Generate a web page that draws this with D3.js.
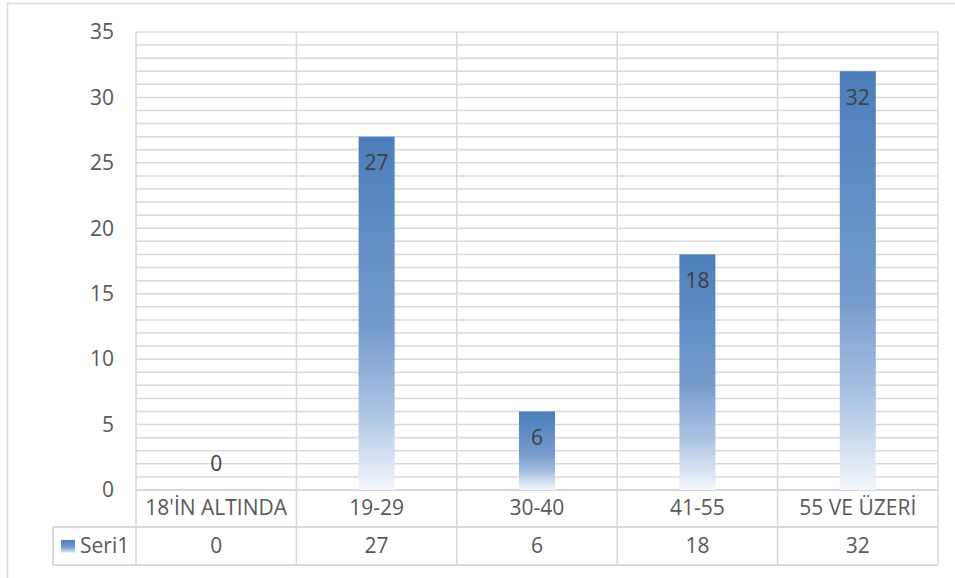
<!DOCTYPE html>
<html><head><meta charset="utf-8">
<script src="https://cdn.jsdelivr.net/npm/d3@7"></script>
<style>body{margin:0;background:#fff}text{font-family:"Open Sans","Noto Sans",sans-serif}</style>
</head><body><svg id="c" width="955" height="578"></svg>
<script>
const categories = ["18'İN ALTINDA","19-29","30-40","41-55","55 VE ÜZERİ"];
const values = [0,27,6,18,32];
const seriesName = "Seri1";
const yTicks = [0,5,10,15,20,25,30,35];

const svg = d3.select("#c");
const L=136,R=938,T=32,B=490,row1=527,row2=565,legL=53;
const grid="#d9d9d9", txt="#595959", fs="21px";

const defs=svg.append("defs");
const g=defs.append("linearGradient").attr("id","bg").attr("x1",0).attr("y1",0).attr("x2",0).attr("y2",1);
[[0,"#4a7ebb"],[0.55,"#769ccd"],[0.78,"#aac3e3"],[1,"#f4f7fc"]].forEach(s=>g.append("stop").attr("offset",s[0]).attr("stop-color",s[1]));

svg.append("rect").attr("x",7.5).attr("y",3.5).attr("width",960).attr("height",590).attr("fill","#fff").attr("stroke","#d9d9d9").attr("stroke-width",1.5);

const x=d3.scaleBand().domain(categories).range([L,R]).paddingInner(0).paddingOuter(0);
const y=d3.scaleLinear().domain([0,35]).range([B,T]);

const gl=svg.append("g");
d3.range(0,36,1).forEach(v=>gl.append("line").attr("x1",L).attr("x2",R).attr("y1",y(v)).attr("y2",y(v)).attr("stroke",grid).attr("stroke-width",1.5));
categories.forEach(c=>gl.append("line").attr("x1",x(c)).attr("x2",x(c)).attr("y1",T).attr("y2",row2).attr("stroke",grid).attr("stroke-width",1.5));
gl.append("line").attr("x1",R).attr("x2",R).attr("y1",T).attr("y2",row2).attr("stroke",grid).attr("stroke-width",1.5);
gl.append("line").attr("x1",L).attr("x2",R).attr("y1",B).attr("y2",B).attr("stroke",grid).attr("stroke-width",2);
gl.append("line").attr("x1",legL).attr("x2",R).attr("y1",row1).attr("y2",row1).attr("stroke",grid).attr("stroke-width",2);
gl.append("line").attr("x1",legL).attr("x2",R).attr("y1",row2).attr("y2",row2).attr("stroke",grid).attr("stroke-width",2);
gl.append("line").attr("x1",legL).attr("x2",legL).attr("y1",row1).attr("y2",row2).attr("stroke",grid).attr("stroke-width",2);

const ax=svg.append("g").attr("transform",`translate(${L},0)`).call(d3.axisLeft(y).tickValues(yTicks).tickSize(0).tickPadding(22));
ax.select(".domain").remove();
ax.selectAll("text").attr("fill",txt).style("font-size",fs).style("font-family",'"Open Sans","Noto Sans",sans-serif');

const bw=36;
svg.append("g").selectAll("rect").data(values).join("rect")
 .attr("x",(d,i)=>x(categories[i])+x.bandwidth()/2-bw/2).attr("width",bw)
 .attr("y",d=>y(d)).attr("height",d=>B-y(d)).attr("fill","url(#bg)");

svg.append("g").selectAll("text").data(values).join("text")
 .attr("x",(d,i)=>x(categories[i])+x.bandwidth()/2)
 .attr("y",d=>d>0?y(d)+28:B-25).attr("text-anchor","middle").attr("dominant-baseline","middle")
 .attr("fill","#404040").style("font-size",fs).text(d=>d);

svg.append("g").selectAll("text").data(categories).join("text")
 .attr("x",c=>x(c)+x.bandwidth()/2).attr("y",(B+row1)/2+1).attr("text-anchor","middle").attr("dominant-baseline","middle")
 .attr("fill",txt).style("font-size",fs).text(c=>c);
svg.append("g").selectAll("text").data(values).join("text")
 .attr("x",(d,i)=>x(categories[i])+x.bandwidth()/2).attr("y",(row1+row2)/2+1).attr("text-anchor","middle").attr("dominant-baseline","middle")
 .attr("fill",txt).style("font-size",fs).text(d=>d);
svg.append("rect").attr("x",61).attr("y",540).attr("width",14).attr("height",13).attr("fill","url(#bg)");
svg.append("text").attr("x",80).attr("y",(row1+row2)/2+1).attr("dominant-baseline","middle").attr("fill",txt).style("font-size",fs).text(seriesName);
</script></body></html>
